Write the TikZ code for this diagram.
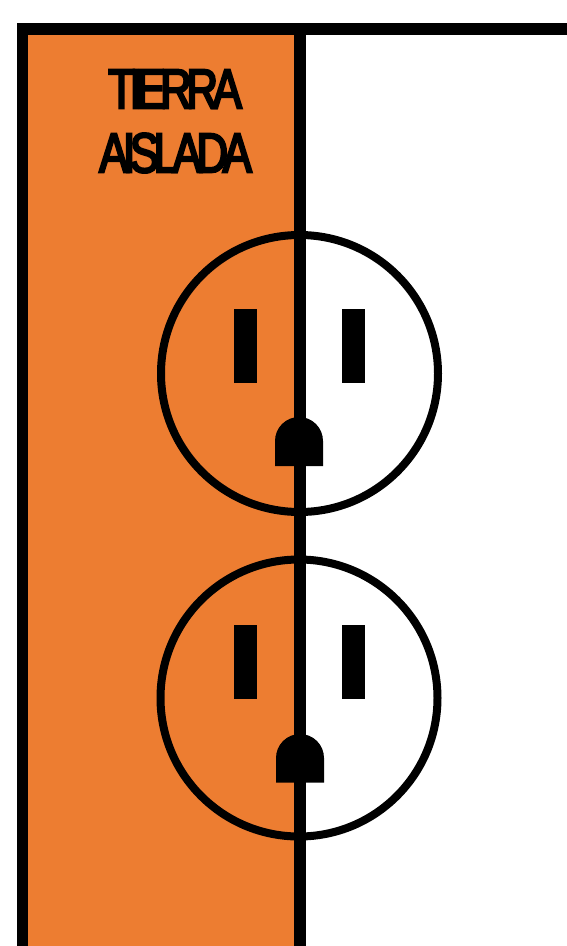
\documentclass[tikz,border=0pt]{standalone}
\usepackage{fontspec}
\newfontfamily\labelfont[FakeStretch=0.78,LetterSpace=-9.5,FakeBold=4]{Liberation Sans}
\definecolor{earth}{HTML}{ED7D31}
\tikzset{
  x=1pt,y=-1pt,
  frame/.style={line width=11.5pt,draw=black,line cap=butt,line join=miter},
  ring/.style={line width=8pt,draw=black},
  slot/.style={fill=black,draw=none},
  plate/.style={font=\labelfont\fontsize{56}{56}\selectfont,text=black,inner sep=0pt,anchor=center}
}
\begin{document}
\begin{tikzpicture}
\useasboundingbox (0,0) rectangle (567,946);
\fill[white] (0,0) rectangle (567,946);
\fill[earth] (22,29) rectangle (300,946);
% receptacle faces
\draw[ring] (299.5,373.5) circle[radius=138.5];
\draw[ring] (299,698) circle[radius=138.5];
% frame
\draw[frame] (22.25,946) -- (22.25,28.75) -- (567,28.75);
\draw[frame] (300,28.75) -- (300,946);
% upper receptacle
\fill[slot] (234,309) rectangle (256.5,382.5);
\fill[slot] (342,309) rectangle (365,382.5);
\fill[slot] (275,466) -- (275,441) arc[start angle=180,end angle=360,radius=24] -- (323,466) -- cycle;
% lower receptacle
\fill[slot] (234,625) rectangle (256.5,698.5);
\fill[slot] (342,625) rectangle (365,698.5);
\fill[slot] (276,782.5) -- (276,758) arc[start angle=180,end angle=360,radius=24] -- (324,782.5) -- cycle;
% label
\node[plate] (tierra) at (175,89) {TIERRA};
\node[plate] (aislada) at (175.5,153) {AISLADA};
\end{tikzpicture}
\end{document}
